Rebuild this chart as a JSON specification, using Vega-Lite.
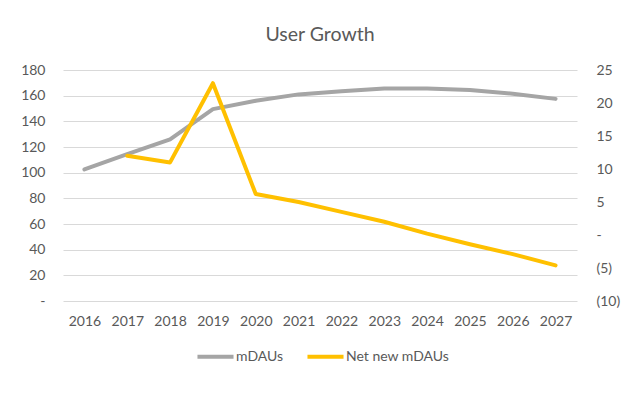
{
  "$schema": "https://vega.github.io/schema/vega-lite/v6.json",
  "autosize": {"type": "none"},
  "padding": {"left": 63, "top": 70, "right": 65, "bottom": 92},
  "width": 514,
  "height": 231,
  "background": "white",
  "title": {"text": "User Growth", "font": "Lato", "fontSize": 19.5, "fontWeight": "normal", "color": "#595959", "anchor": "middle", "offset": 18},
  "data": {"values": [
    {"year": "2016", "mDAUs": 102.5, "net": null},
    {"year": "2017", "mDAUs": 114.5, "net": 12},
    {"year": "2018", "mDAUs": 126, "net": 11},
    {"year": "2019", "mDAUs": 149.5, "net": 23},
    {"year": "2020", "mDAUs": 156, "net": 6.2},
    {"year": "2021", "mDAUs": 161, "net": 5},
    {"year": "2022", "mDAUs": 163.5, "net": 3.5},
    {"year": "2023", "mDAUs": 165.5, "net": 2},
    {"year": "2024", "mDAUs": 165.5, "net": 0.2},
    {"year": "2025", "mDAUs": 164.5, "net": -1.4},
    {"year": "2026", "mDAUs": 161.5, "net": -2.9},
    {"year": "2027", "mDAUs": 157.5, "net": -4.6}
  ]},
  "encoding": {
    "x": {"field": "year", "type": "ordinal", "scale": {"type": "point", "padding": 0.5},
      "axis": {"title": null, "labelAngle": 0, "ticks": false, "domain": false, "grid": false, "labelPadding": 13}}
  },
  "layer": [
    {
      "mark": {"type": "line", "strokeWidth": 4, "strokeCap": "round", "strokeJoin": "round"},
      "encoding": {
        "y": {"field": "mDAUs", "type": "quantitative", "scale": {"domain": [0, 180], "nice": false},
          "axis": {"title": null, "values": [0,20,40,60,80,100,120,140,160,180], "grid": true, "ticks": false, "domain": false, "labelPadding": 18,
            "labelExpr": "datum.value == 0 ? '-\u00a0\u00a0\u00a0' : datum.label"}},
        "color": {"datum": "mDAUs", "type": "nominal",
          "scale": {"domain": ["mDAUs", "Net new mDAUs"], "range": ["#A5A5A5", "#FFC000"]},
          "legend": {"title": null, "orient": "none", "legendX": 132, "legendY": 266, "direction": "horizontal", "symbolType": "stroke", "symbolSize": 1300, "symbolStrokeWidth": 4, "labelOffset": 0, "columnPadding": 15}}
      }
    },
    {
      "mark": {"type": "line", "strokeWidth": 4, "strokeCap": "round", "strokeJoin": "round"},
      "encoding": {
        "y": {"field": "net", "type": "quantitative", "scale": {"domain": [-10, 25], "nice": false, "zero": false},
          "axis": {"title": null, "orient": "right", "values": [-10,-5,0,5,10,15,20,25], "grid": false, "ticks": false, "domain": false, "labelPadding": 19, "labelAlign": "left",
            "labelExpr": "datum.value == 0 ? '-' : (datum.value < 0 ? '(' + abs(datum.value) + ')' : datum.label)"}},
        "color": {"datum": "Net new mDAUs", "type": "nominal"}
      }
    }
  ],
  "resolve": {"scale": {"y": "independent"}},
  "config": {
    "view": {"stroke": null},
    "font": "Lato",
    "axis": {"labelFont": "Lato", "labelFontSize": 14, "labelColor": "#595959", "gridColor": "#D9D9D9", "gridWidth": 1},
    "legend": {"labelFont": "Lato", "labelFontSize": 14, "labelColor": "#595959"}
  }
}
